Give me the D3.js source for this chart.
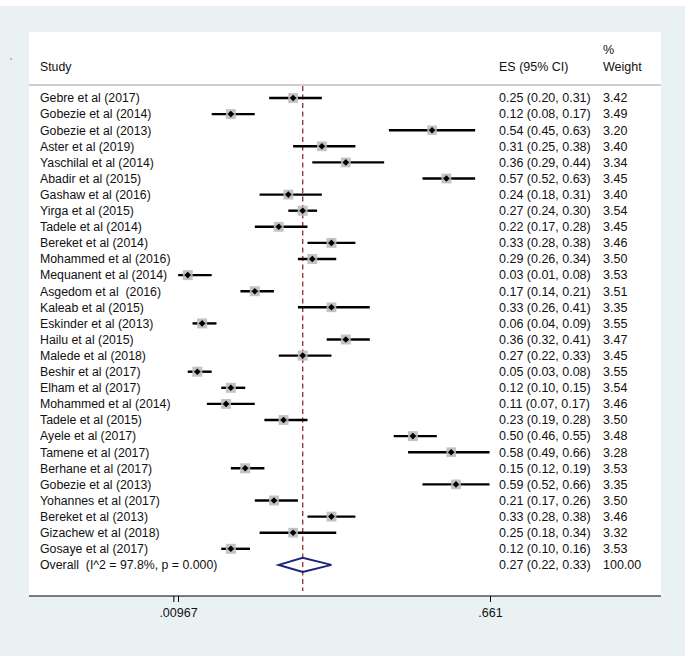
<!DOCTYPE html>
<html>
<head>
<meta charset="utf-8">
<script src="https://cdn.jsdelivr.net/npm/d3@7/dist/d3.min.js"></script>
<style>
  html, body { margin: 0; padding: 0; background: #ffffff; }
  svg text { font-family: "Liberation Sans", Arial, Helvetica, sans-serif; white-space: pre; }
</style>
</head>
<body>
<svg id="chart" width="685" height="656"></svg>
<script>
// ---- data ----
const studyLabels = [
  "Gebre et al (2017)", "Gobezie et al (2014)", "Gobezie et al (2013)", "Aster et al (2019)",
  "Yaschilal et al (2014)", "Abadir et al (2015)", "Gashaw et al (2016)", "Yirga et al (2015)",
  "Tadele et al (2014)", "Bereket et al (2014)", "Mohammed et al (2016)", "Mequanent et al (2014)",
  "Asgedom et al  (2016)", "Kaleab et al (2015)", "Eskinder et al (2013)", "Hailu et al (2015)",
  "Malede et al (2018)", "Beshir et al (2017)", "Elham et al (2017)", "Mohammed et al (2014)",
  "Tadele et al (2015)", "Ayele et al (2017)", "Tamene et al (2017)", "Berhane et al (2017)",
  "Gobezie et al (2013)", "Yohannes et al (2017)", "Bereket et al (2013)", "Gizachew et al (2018)",
  "Gosaye et al (2017)"
];
const esValues = [0.25, 0.12, 0.54, 0.31, 0.36, 0.57, 0.24, 0.27, 0.22, 0.33, 0.29, 0.03, 0.17, 0.33, 0.06, 0.36,
  0.27, 0.05, 0.12, 0.11, 0.23, 0.50, 0.58, 0.15, 0.59, 0.21, 0.33, 0.25, 0.12];
const lowerCI = [0.20, 0.08, 0.45, 0.25, 0.29, 0.52, 0.18, 0.24, 0.17, 0.28, 0.26, 0.01, 0.14, 0.26, 0.04, 0.32,
  0.22, 0.03, 0.10, 0.07, 0.19, 0.46, 0.49, 0.12, 0.52, 0.17, 0.28, 0.18, 0.10];
const upperCI = [0.31, 0.17, 0.63, 0.38, 0.44, 0.63, 0.31, 0.30, 0.28, 0.38, 0.34, 0.08, 0.21, 0.41, 0.09, 0.41,
  0.33, 0.08, 0.15, 0.17, 0.28, 0.55, 0.66, 0.19, 0.66, 0.26, 0.38, 0.34, 0.16];
const weights = [3.42, 3.49, 3.20, 3.40, 3.34, 3.45, 3.40, 3.54, 3.45, 3.46, 3.50, 3.53, 3.51, 3.35, 3.55, 3.47,
  3.45, 3.55, 3.54, 3.46, 3.50, 3.48, 3.28, 3.53, 3.35, 3.50, 3.46, 3.32, 3.53];
const overallLabel = "Overall  (I^2 = 97.8%, p = 0.000)";
const overallES = 0.27, overallLower = 0.22, overallUpper = 0.33, overallWeight = "100.00";
const axisTicks = [0, 0.00967, 0.661];
const axisTickLabels = ["", ".00967", ".661"];

// ---- layout ----
const W = 685, H = 656;
const svg = d3.select("#chart");
const bg = "#e9f1f3";
svg.append("rect").attr("x", 0).attr("y", 0).attr("width", W).attr("height", H).attr("fill", bg);
svg.append("rect").attr("x", 0).attr("y", 0).attr("width", W).attr("height", 6).attr("fill", "#ffffff");
const panel = {x0: 29, x1: 661, y0: 32, y1: 596};
svg.append("rect").attr("x", panel.x0).attr("y", panel.y0)
  .attr("width", panel.x1 - panel.x0).attr("height", panel.y1 - panel.y0).attr("fill", "#ffffff");
// tiny dot at left
svg.append("circle").attr("cx", 11).attr("cy", 59).attr("r", 0.7).attr("fill", "#555");

const x = d3.scaleLinear().domain([0.00967, 0.661]).range([178, 490]);
const nRows = studyLabels.length + 1;
const y = d3.scaleLinear().domain([0, nRows - 1]).range([98, 98 + 16.1 * (nRows - 1)]);

const fs = 12.5;
const labFs = 12.3;
const colStudy = 40, colES = 499, colW = 603;

// header
const hdr = svg.append("g").attr("font-size", fs).attr("fill", "#111");
hdr.append("text").attr("x", colStudy).attr("y", 67).attr("font-size", labFs).attr("dy", "0.35em").text("Study");
hdr.append("text").attr("x", colES).attr("y", 67).attr("dy", "0.35em").text("ES (95% CI)");
hdr.append("text").attr("x", colW).attr("y", 50).attr("dy", "0.35em").text("%");
hdr.append("text").attr("x", colW).attr("y", 67).attr("dy", "0.35em").text("Weight");

svg.append("line").attr("x1", panel.x0).attr("x2", panel.x1).attr("y1", 85).attr("y2", 85)
  .attr("stroke", "#bdbdbd").attr("stroke-width", 1.6);

// overall dashed line
svg.append("line").attr("x1", x(overallES)).attr("x2", x(overallES))
  .attr("y1", 86).attr("y2", 591)
  .attr("stroke", "#9a3a3a").attr("stroke-width", 1.4).attr("stroke-dasharray", "5,3.5");

const rows = studyLabels.map((s, i) => ({label: s, es: esValues[i], lo: lowerCI[i], hi: upperCI[i], w: weights[i], i}));

const g = svg.append("g");
g.selectAll("line.ci").data(rows).join("line").attr("class", "ci")
  .attr("x1", d => x(d.lo)).attr("x2", d => x(d.hi))
  .attr("y1", d => y(d.i)).attr("y2", d => y(d.i))
  .attr("stroke", "#000").attr("stroke-width", 2.4);
const boxSize = w => 10 * Math.sqrt(w / 3.55);
g.selectAll("rect.box").data(rows).join("rect").attr("class", "box")
  .attr("x", d => x(d.es) - boxSize(d.w) / 2).attr("y", d => y(d.i) - boxSize(d.w) / 2)
  .attr("width", d => boxSize(d.w)).attr("height", d => boxSize(d.w))
  .attr("fill", "#bdbdbd").attr("opacity", 0.9);
g.selectAll("path.pt").data(rows).join("path").attr("class", "pt")
  .attr("transform", d => `translate(${x(d.es)},${y(d.i)})`)
  .attr("d", "M0,-3.3L3.3,0L0,3.3L-3.3,0Z").attr("fill", "#000");

// texts
const tg = svg.append("g").attr("font-size", fs).attr("fill", "#111");
tg.selectAll("text.lab").data(rows).join("text").attr("class", "lab")
  .attr("x", colStudy).attr("y", d => y(d.i))
  .attr("font-size", labFs).attr("dy", "0.35em").text(d => d.label);
tg.selectAll("text.es").data(rows).join("text").attr("class", "es")
  .attr("x", colES).attr("y", d => y(d.i)).attr("dy", "0.35em")
  .text(d => `${d.es.toFixed(2)} (${d.lo.toFixed(2)}, ${d.hi.toFixed(2)})`);
tg.selectAll("text.wt").data(rows).join("text").attr("class", "wt")
  .attr("x", colW).attr("y", d => y(d.i)).attr("dy", "0.35em").text(d => d.w.toFixed(2));

// overall
const oy = y(nRows - 1);
tg.append("text").attr("x", colStudy).attr("y", oy)
  .attr("font-size", labFs).attr("dy", "0.35em").text(overallLabel);
tg.append("text").attr("x", colES).attr("y", oy).attr("dy", "0.35em")
  .text(`${overallES.toFixed(2)} (${overallLower.toFixed(2)}, ${overallUpper.toFixed(2)})`);
tg.append("text").attr("x", colW).attr("y", oy).attr("dy", "0.35em").text(overallWeight);
svg.append("path")
  .attr("d", `M${x(overallLower)},${oy}L${x(overallES)},${oy - 7}L${x(overallUpper)},${oy}L${x(overallES)},${oy + 7}Z`)
  .attr("fill", "none").attr("stroke", "#1c237a").attr("stroke-width", 2);

// axis
svg.append("line").attr("x1", panel.x0).attr("x2", panel.x1).attr("y1", panel.y1).attr("y2", panel.y1)
  .attr("stroke", "#000").attr("stroke-width", 1);
const axis = d3.axisBottom(x).tickValues(axisTicks).tickSize(6).tickPadding(6)
  .tickFormat((d, i) => axisTickLabels[i]);
const ag = svg.append("g").attr("transform", `translate(0,${panel.y1})`).call(axis);
ag.select(".domain").remove();
ag.selectAll("text").attr("font-size", fs).attr("fill", "#111")
  .attr("font-family", '"Liberation Sans", Arial, sans-serif');
ag.selectAll(".tick line").attr("stroke", "#000");
</script>
</body>
</html>
